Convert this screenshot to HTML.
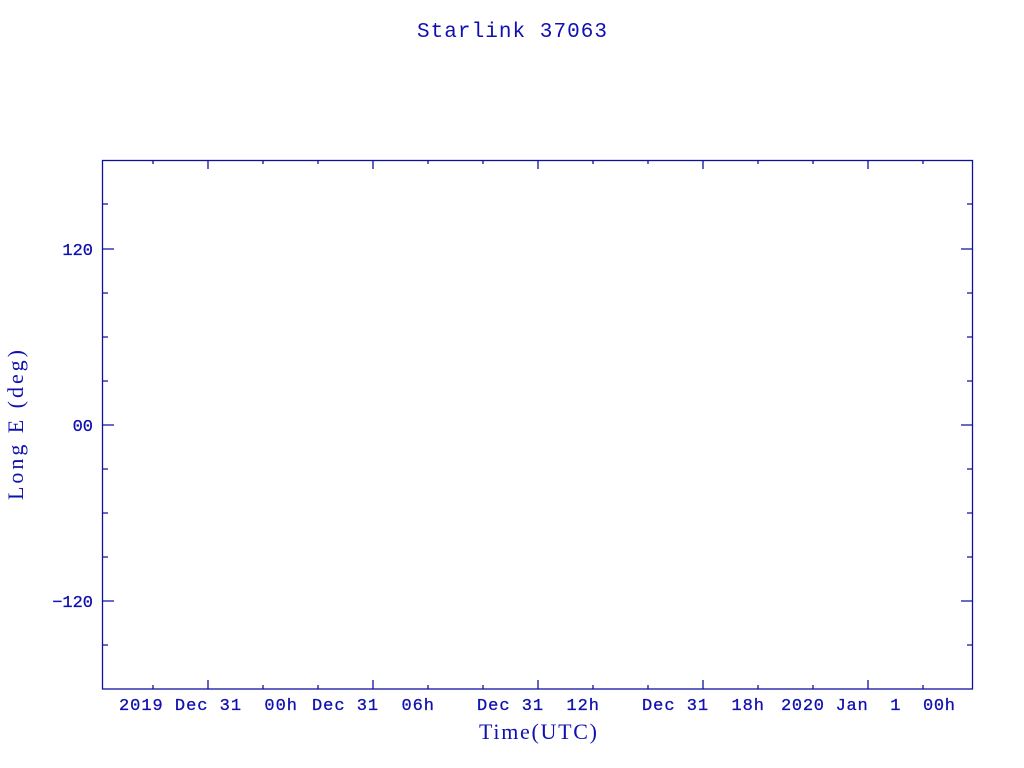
<!DOCTYPE html>
<html><head><style>body{margin:0;background:#fff}svg{display:block}</style></head>
<body>
<svg width="1024" height="768" xmlns="http://www.w3.org/2000/svg" font-family="Liberation Mono, monospace" fill="#1010b0">
<rect x="0" y="0" width="1024" height="768" fill="#fff"/>
<g stroke="#1010a0" stroke-width="1.3" fill="none">
<rect x="102.5" y="160.5" width="870" height="528.5"/>
<path d="M208 160v9M373 160v9M538 160v9M703 160v9M868 160v9M208 689v-9M373 689v-9M538 689v-9M703 689v-9M868 689v-9
M153 160v4M263 160v4M318 160v4M428 160v4M483 160v4M593 160v4M648 160v4M758 160v4M813 160v4M923 160v4
M153 689v-4M263 689v-4M318 689v-4M428 689v-4M483 689v-4M593 689v-4M648 689v-4M758 689v-4M813 689v-4M923 689v-4
M102 249h12M102 425h12M102 601h12M973 249h-12M973 425h-12M973 601h-12
M102 204h6M102 293h6M102 337h6M102 381h6M102 469h6M102 513h6M102 557h6M102 645h6
M973 204h-6M973 293h-6M973 337h-6M973 381h-6M973 469h-6M973 513h-6M973 557h-6M973 645h-6"/>
</g>
<g font-size="17" text-anchor="middle" stroke="#1010b0" stroke-width="0.3">
<text x="208" y="710" textLength="178" xml:space="preserve">2019 Dec 31  00h</text>
<text x="373" y="710" textLength="122" xml:space="preserve">Dec 31  06h</text>
<text x="538" y="710" textLength="122" xml:space="preserve">Dec 31  12h</text>
<text x="703" y="710" textLength="122" xml:space="preserve">Dec 31  18h</text>
<text x="868" y="710" textLength="174" xml:space="preserve">2020 Jan  1  00h</text>
</g>
<g font-size="17" text-anchor="end" stroke="#1010b0" stroke-width="0.3">
<text x="93" y="255">120</text>
<text x="93" y="431">00</text>
<text x="93" y="607">−120</text>
</g>
<text x="538" y="739" font-size="22" textLength="118" font-family="Liberation Serif, serif" text-anchor="middle">Time(UTC)</text>
<text x="512" y="37" font-size="21" textLength="190" text-anchor="middle" font-family="Liberation Mono, monospace">Starlink 37063</text>
<text transform="translate(23,425) rotate(-90)" font-size="22" textLength="150" font-family="Liberation Serif, serif" text-anchor="middle">Long E (deg)</text>
</svg>
</body></html>
